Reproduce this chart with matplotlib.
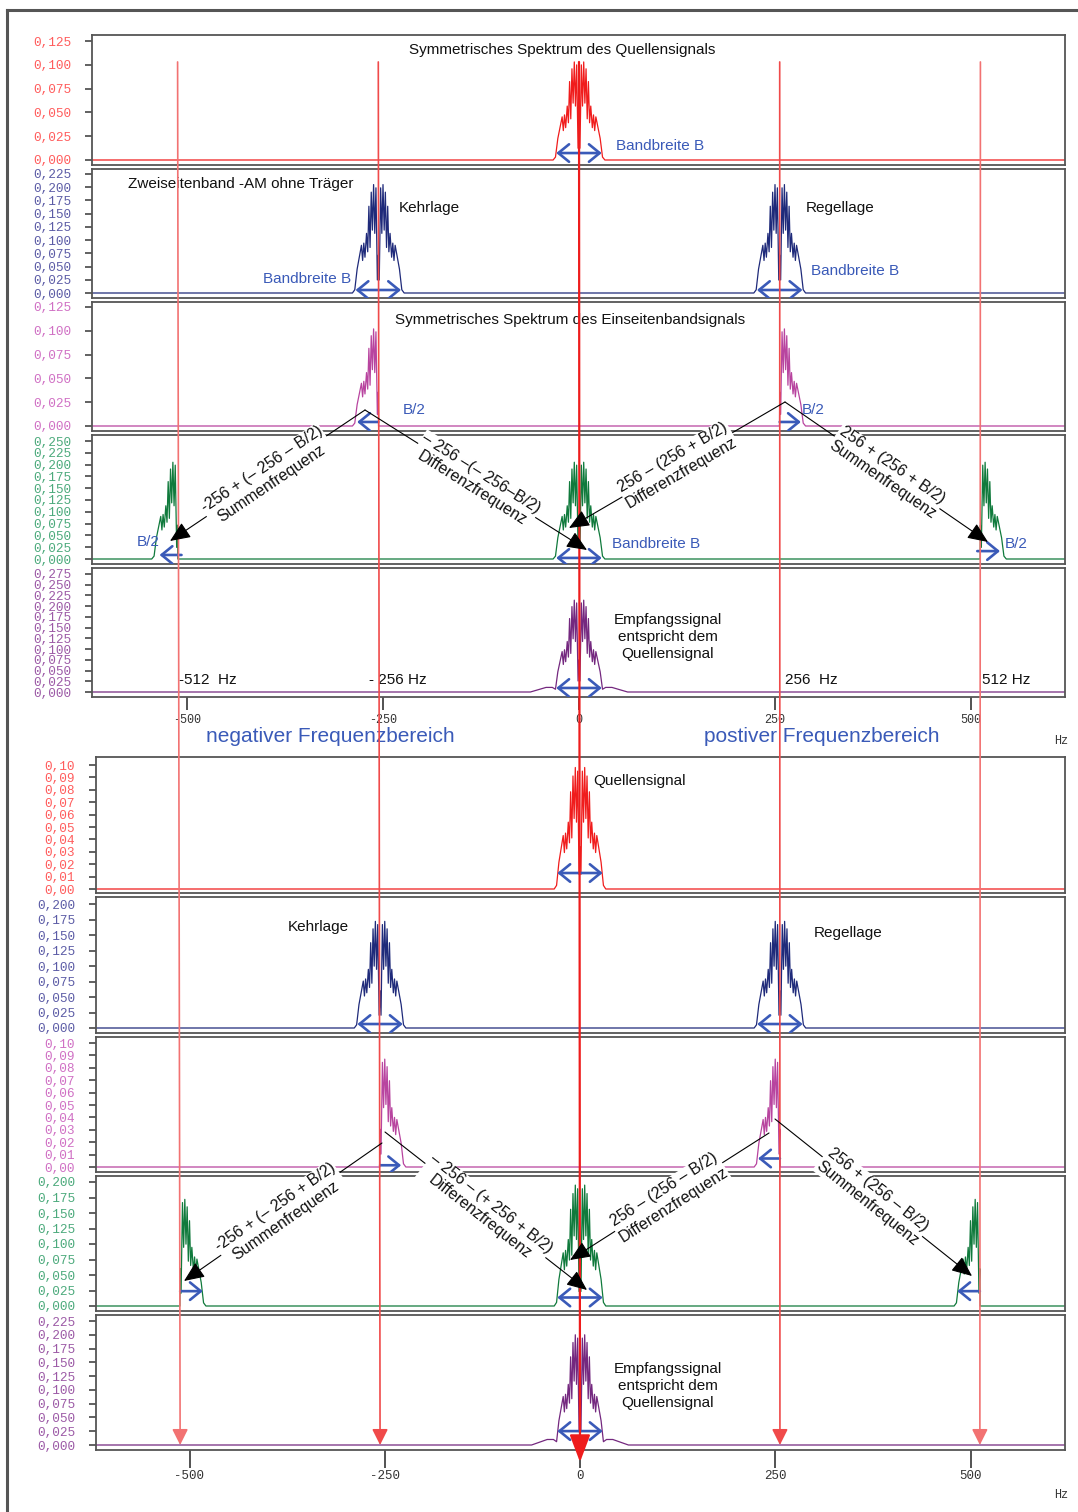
import math
import numpy as np
import matplotlib
matplotlib.use("Agg")
import matplotlib.pyplot as plt
from matplotlib.patches import FancyArrowPatch
from matplotlib.lines import Line2D
import matplotlib.transforms as mtransforms

plt.rcParams["font.family"] = ["Liberation Sans", "DejaVu Sans"]

W, H = 1078, 1512
fig = plt.figure(figsize=(W / 100, H / 100), dpi=100)
fig.patch.set_facecolor("white")

# ------------------------------------------------------------------ data
marker_freqs = [-512, -256, 0, 256, 512]
x_tick_values = [-500, -250, 0, 250, 500]
half_band = 29  # B/2 in Hz

# comb-shaped baseband spectrum: offset from band centre (Hz), normalised level
band_offset = [-30, -27, -23, -21.5, -20, -18.5, -17, -15, -13.5, -12, -10.5, -9,
               -7.5, -6, -4.5, -3, -1.2, 0, 1.2, 3, 4.5, 6, 7.5, 9, 10.5, 12,
               13.5, 15, 17, 18.5, 20, 21.5, 23, 27, 30]
band_level = [0.03, 0.22, 0.38, 0.44, 0.30, 0.46, 0.33, 0.55, 0.38, 0.80, 0.42, 0.93,
              0.58, 1.00, 0.55, 0.97, 0.12, 0.35, 0.12, 0.97, 0.55, 1.00, 0.58, 0.93,
              0.42, 0.80, 0.38, 0.55, 0.33, 0.46, 0.30, 0.44, 0.38, 0.22, 0.03]

# low skirt around the received (low-pass filtered) signal
skirt_offset = [-62, -50, -42, -34, 34, 42, 50, 62]
skirt_level = [0.0, 0.03, 0.05, 0.05, 0.05, 0.05, 0.03, 0.0]

# spectral components per panel: (centre frequency, kept sideband, peak amplitude)
upper_components = [
    [(0, "both", 0.103)],
    [(-256, "both", 0.205), (256, "both", 0.205)],
    [(-256, "lower", 0.102), (256, "upper", 0.102)],
    [(-512, "lower", 0.205), (0, "both", 0.205), (512, "upper", 0.205)],
    [(0, "both", 0.214)],
]
lower_components = [
    [(0, "both", 0.098)],
    [(-256, "both", 0.172), (256, "both", 0.172)],
    [(-256, "upper", 0.087), (256, "lower", 0.087)],
    [(-512, "upper", 0.172), (0, "both", 0.195), (512, "lower", 0.172)],
    [(0, "both", 0.200)],
]
with_skirt = [False, False, False, False, True]

upper_ymax = [0.125, 0.225, 0.125, 0.25, 0.275]
upper_ystep = [0.025, 0.025, 0.025, 0.025, 0.025]
upper_decimals = [3, 3, 3, 3, 3]
lower_ymax = [0.10, 0.200, 0.10, 0.200, 0.225]
lower_ystep = [0.01, 0.025, 0.01, 0.025, 0.025]
lower_decimals = [2, 3, 2, 3, 3]

curve_colors = ["#f01c1c", "#1f2a7a", "#b8449f", "#107a3c", "#74287f"]
tick_colors = ["#ff5c5c", "#5c5ca6", "#d070c4", "#4caa7c", "#9c5aa6"]
BLUE = "#3a5ab8"

# ------------------------------------------------------------------ layout (pixels)
# (top, bottom, zero line, line of the top tick)
upper_frames = [(35, 165, 160, 41), (169, 298, 293, 174), (302, 431, 426, 307),
                (435, 564, 559, 441), (568, 697, 692, 574)]
lower_frames = [(757, 893, 889, 765), (897, 1033, 1028, 904), (1037, 1172, 1167, 1043),
                (1176, 1311, 1306, 1182), (1315, 1450, 1445, 1321)]
# (left, right, x of 0 Hz, pixels per Hz)
upper_h = (92, 1065, 579, 0.784)
lower_h = (96, 1065, 580, 0.781)


def spectrum_curve(components, xlim, skirt):
    off = np.array(band_offset, dtype=float)
    lev = np.array(band_level, dtype=float)
    xs, ys = [xlim[0], xlim[1]], [0.0, 0.0]
    for centre, side, peak in components:
        if side == "lower":
            keep = off <= 0
        elif side == "upper":
            keep = off >= 0
        else:
            keep = np.ones(off.size, dtype=bool)
        xs += list(centre + off[keep])
        ys += list(peak * lev[keep])
        if side == "lower":
            xs += [centre + 0.3]
            ys += [0.0]
        if side == "upper":
            xs += [centre - 0.3]
            ys += [0.0]
        if skirt and side == "both":
            xs += list(centre + np.array(skirt_offset))
            ys += list(peak * np.array(skirt_level))
        else:
            if side in ("both", "lower"):
                xs += [centre - 33]
                ys += [0.0]
            if side in ("both", "upper"):
                xs += [centre + 33]
                ys += [0.0]
    order = np.argsort(xs, kind="stable")
    return np.array(xs)[order], np.array(ys)[order]


def add_panel(frame, hpos, comps, ymax, ystep, decimals, color, tcolor, skirt, pad):
    top, bottom, zero_px, ref_px = frame
    left, right, x0_px, px_hz = hpos
    ax = fig.add_axes([left / W, 1 - bottom / H, (right - left) / W, (bottom - top) / H])
    per_px = ymax / (zero_px - ref_px)
    ax.set_ylim(-(bottom - zero_px) * per_px, (zero_px - top) * per_px)
    ax.set_xlim((left - x0_px) / px_hz, (right - x0_px) / px_hz)
    xs, ys = spectrum_curve(comps, ax.get_xlim(), skirt)
    ax.plot(xs, ys, color=color, lw=0.9, zorder=2)
    ticks = np.round(np.arange(0, ymax + ystep / 2, ystep), 3)
    ax.set_yticks(ticks)
    ax.set_yticklabels([f"{t:.{decimals}f}".replace(".", ",") for t in ticks],
                       family="Liberation Mono", fontsize=9.2, color=tcolor)
    ax.tick_params(axis="y", length=5, width=1.3, color="#555555", pad=pad)
    ax.set_xticks([])
    for sp in ax.spines.values():
        sp.set_color("#555555")
        sp.set_linewidth(1.3)
    return ax


upper_axes = [add_panel(upper_frames[i], upper_h, upper_components[i], upper_ymax[i],
                        upper_ystep[i], upper_decimals[i], curve_colors[i], tick_colors[i],
                        with_skirt[i], 9.5) for i in range(5)]
lower_axes = [add_panel(lower_frames[i], lower_h, lower_components[i], lower_ymax[i],
                        lower_ystep[i], lower_decimals[i], curve_colors[i], tick_colors[i],
                        with_skirt[i], 10) for i in range(5)]

for ax, length, pad, size in ((upper_axes[-1], 9.5, 2.5, 8.5), (lower_axes[-1], 13, 1.2, 9)):
    ax.set_xticks(x_tick_values)
    ax.set_xticklabels([str(v) for v in x_tick_values], family="Liberation Mono",
                       fontsize=size, color="#333333")
    ax.tick_params(axis="x", length=length, width=1.3, color="#444444", pad=pad)

# ------------------------------------------------------------------ bandwidth arrows
def band_arrow(ax, x0, x1, yfrac, style):
    trans = mtransforms.blended_transform_factory(ax.transData, ax.transAxes)
    ax.add_patch(FancyArrowPatch((x0, yfrac), (x1, yfrac), transform=trans,
                                 arrowstyle=style + ",head_length=0.55,head_width=0.45",
                                 mutation_scale=14, color=BLUE, lw=1.9,
                                 shrinkA=0, shrinkB=0, zorder=5))

hb = half_band
upper_band_arrows = [
    [(-hb, hb, 0.092, "<->")],
    [(-256 - hb, -256 + hb, 0.062, "<->"), (256 - hb, 256 + hb, 0.062, "<->")],
    [(-256, -256 - 27, 0.07, "->"), (256, 256 + 27, 0.07, "->")],
    [(-507, -535, 0.07, "->"), (-hb, hb, 0.047, "<->"), (508, 537, 0.10, "->")],
    [(-hb, hb, 0.07, "<->")],
]
lower_band_arrows = [
    [(-hb, hb, 0.147, "<->")],
    [(-256 - hb, -256 + hb, 0.066, "<->"), (256 - hb, 256 + hb, 0.066, "<->")],
    [(-256, -229, 0.05, "->"), (256, 228, 0.10, "->")],
    [(-512, -483, 0.147, "->"), (-hb, hb, 0.10, "<->"), (512, 483, 0.147, "->")],
    [(-hb, hb, 0.14, "<->")],
]
for axes, arrows in ((upper_axes, upper_band_arrows), (lower_axes, lower_band_arrows)):
    for ax, lst in zip(axes, arrows):
        for a in lst:
            band_arrow(ax, *a)

# ------------------------------------------------------------------ text
def ftext(x, y, s, color="#111111", size=11, **kw):
    kw.setdefault("ha", "center")
    kw.setdefault("va", "center")
    return fig.text(x / W, 1 - y / H, s, color=color, fontsize=size, **kw)

receive_txt = "Empfangssignal\nentspricht dem\nQuellensignal"
ftext(562, 50, "Symmetrisches Spektrum des Quellensignals")
ftext(660, 146, "Bandbreite B", BLUE)
ftext(241, 184, "Zweiseitenband -AM ohne Träger")
ftext(429, 208, "Kehrlage")
ftext(840, 208, "Regellage")
ftext(307, 279, "Bandbreite B", BLUE)
ftext(855, 271, "Bandbreite B", BLUE)
ftext(570, 320, "Symmetrisches Spektrum des Einseitenbandsignals")
ftext(414, 410, "B/2", BLUE)
ftext(813, 410, "B/2", BLUE)
ftext(148, 542, "B/2", BLUE)
ftext(656, 544, "Bandbreite B", BLUE)
ftext(1016, 544, "B/2", BLUE)
ftext(668, 637, receive_txt, linespacing=1.3)
ftext(208, 680, "-512  Hz")
ftext(398, 680, "- 256 Hz")
ftext(811, 680, "256  Hz")
ftext(1006, 680, "512 Hz")
ftext(330, 737, "negativer Frequenzbereich", BLUE, 15)
ftext(822, 737, "postiver Frequenzbereich", BLUE, 15)
ftext(1061, 741, "Hz", "#333333", 8.5, family="Liberation Mono")
ftext(640, 781, "Quellensignal")
ftext(318, 927, "Kehrlage")
ftext(848, 933, "Regellage")
ftext(668, 1386, receive_txt, linespacing=1.3)
ftext(1061, 1495, "Hz", "#333333", 8.5, family="Liberation Mono")

# mixing products: (start, arrow tip, label centre) in pixels, label
mix_arrows = [
    ((365, 410), (170, 541), (265, 474), "-256 + (– 256 – B/2)\nSummenfrequenz"),
    ((365, 410), (587, 550), (477, 480), "– 256 –(– 256–B/2)\nDifferenzfrequenz"),
    ((785, 402), (569, 528), (678, 466), "256 – (256 + B/2)\nDifferenzfrequenz"),
    ((785, 402), (988, 542), (888, 471), "256 + (256 + B/2)\nSummenfrequenz"),
    ((382, 1143), (184, 1281), (277, 1209), "-256 + (– 256 + B/2)\nSummenfrequenz"),
    ((385, 1132), (587, 1290), (485, 1211), "– 256 – (+ 256 + B/2)\nDifferenzfrequenz"),
    ((769, 1133), (570, 1260), (668, 1196), "256 – (256 – B/2)\nDifferenzfrequenz"),
    ((775, 1119), (972, 1276), (872, 1197), "256 + (256 – B/2)\nSummenfrequenz"),
]
for (sx, sy), (tx, ty), (cx, cy), label in mix_arrows:
    fig.add_artist(FancyArrowPatch((sx / W, 1 - sy / H), (tx / W, 1 - ty / H),
                                   transform=fig.transFigure,
                                   arrowstyle="-|>,head_length=0.7,head_width=0.3",
                                   mutation_scale=18, color="black", lw=0.8,
                                   shrinkA=0, shrinkB=0, zorder=6))
    (lx, ly), (rx, ry) = sorted([(sx, sy), (tx, ty)])
    ang = math.degrees(math.atan2(ly - ry, rx - lx))
    # put the label centre on the arrow line
    dx, dy = tx - sx, ty - sy
    t = ((cx - sx) * dx + (cy - sy) * dy) / (dx * dx + dy * dy)
    px, py = sx + t * dx, sy + t * dy
    fig.text(px / W, 1 - py / H, label, rotation=ang, rotation_mode="anchor",
             ha="center", va="center", multialignment="center", fontsize=11.5,
             color="#111111", zorder=7,
             bbox=dict(facecolor="white", edgecolor="none", pad=0.5))

# ------------------------------------------------------------------ carrier markers
to_fig = fig.transFigure.inverted()
for f in marker_freqs:
    p0 = to_fig.transform(upper_axes[0].transData.transform((f, upper_components[0][0][2])))
    if f == 0:
        end_trans = lower_axes[-1].get_xaxis_transform()
        p1 = to_fig.transform(end_trans.transform((f, -0.09)))
        style, col, lw, ms = "-|>,head_length=0.85,head_width=0.32", "#ee1c1c", 1.6, 20
    else:
        p1 = to_fig.transform(lower_axes[-1].transData.transform((f, 0)))
        col = "#f04a4a" if abs(f) == 256 else "#f27272"
        style, lw, ms = "-|>,head_length=0.8,head_width=0.4", 1.2, 12
    fig.add_artist(FancyArrowPatch(tuple(p0), tuple(p1), transform=fig.transFigure,
                                   arrowstyle=style, mutation_scale=ms, color=col,
                                   lw=lw, shrinkA=0, shrinkB=0, zorder=5))

# outer frame
fig.add_artist(Line2D([7 / W, 7 / W], [0, 1 - 10 / H], transform=fig.transFigure,
                      color="#555555", lw=2.2, zorder=8))
fig.add_artist(Line2D([7 / W, 1], [1 - 10 / H, 1 - 10 / H], transform=fig.transFigure,
                      color="#555555", lw=2.2, zorder=8))

fig.savefig("out.png", dpi=100)
